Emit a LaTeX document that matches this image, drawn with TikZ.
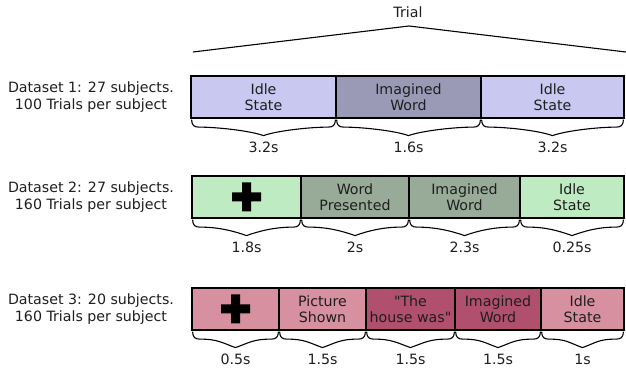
\documentclass[tikz,border=0pt]{standalone}
\usepackage{fontspec}
\setmainfont{DejaVu Sans}[Ligatures=TeXOff]
\usetikzlibrary{calc}
\definecolor{txt}{HTML}{1E1E1E}
\definecolor{aLight}{HTML}{C8C8F0}
\definecolor{aDark}{HTML}{9A9AB6}
\definecolor{bLight}{HTML}{BEEBC2}
\definecolor{bDark}{HTML}{98AA98}
\definecolor{cLight}{HTML}{D690A0}
\definecolor{cDark}{HTML}{B0506E}
\tikzset{
  every node/.style={font=\fontsize{14.2}{16.5}\selectfont, text=txt},
  seg/.style={draw=black, line width=2.4pt, minimum height=42pt, inner sep=0pt, outer sep=0pt, align=center},
  brc/.style={draw=black, line width=1.1pt},
  lab/.style={inner sep=0pt},
  crossfill/.style={fill=black}
}
\newcommand\durbrace[3]{%
  \coordinate (#2-l) at ($(#1.south west)+(0.6,-1.6)$);
  \coordinate (#2-r) at ($(#1.south east)+(-0.6,-1.6)$);
  \coordinate (#2-m) at ($(#2-l)!0.5!(#2-r)+(0,-16)$);
  \draw[brc] (#2-l) .. controls +(0,-6) and +(-4,0) .. ($(#2-l)+(7,-7.5)$)
     .. controls +(18,0) and +(-14,5) .. (#2-m)
     .. controls +(14,5) and +(-18,0) .. ($(#2-r)+(-7,-7.5)$)
     .. controls +(4,0) and +(0,-6) .. (#2-r);
  \node[lab] (#2) at ($(#2-m)+(0,-12)$) {#3};}
\begin{document}
\begin{tikzpicture}[x=1pt,y=1pt]
\useasboundingbox (0,0) rectangle (626,374);

% Trial
\node[lab] (trial) at (408,362) {Trial};
\coordinate (tl) at (193,322);
\coordinate (tp) at (409,348);
\coordinate (tr) at (630,321.5);
\draw[line width=1.1pt] (tl) -- (tp) -- (tr);

% Dataset labels
\node[align=center, inner sep=0pt] (d1) at (91,277) {Dataset 1: 27 subjects.\\100 Trials per subject};
\node[align=center, inner sep=0pt] (d2) at (91,177) {Dataset 2: 27 subjects.\\160 Trials per subject};
\node[align=center, inner sep=0pt] (d3) at (91,65) {Dataset 3: 20 subjects.\\160 Trials per subject};

% Row 1
\node[seg, fill=aLight, minimum width=145pt] (a1) at (263.5,277) {Idle\\State};
\node[seg, fill=aDark, minimum width=145pt] (a2) at (408.5,277) {Imagined\\Word};
\node[seg, fill=aLight, minimum width=143pt] (a3) at (552.5,277) {Idle\\State};
\durbrace{a1}{ta1}{3.2s}
\durbrace{a2}{ta2}{1.6s}
\durbrace{a3}{ta3}{3.2s}

% Row 2
\node[seg, fill=bLight, minimum width=109pt] (b1) at (246.5,177) {};
\node[seg, fill=bDark, minimum width=108pt] (b2) at (355,177) {Word\\Presented};
\node[seg, fill=bDark, minimum width=111pt] (b3) at (464.5,177) {Imagined\\Word};
\node[seg, fill=bLight, minimum width=104pt] (b4) at (572,177) {Idle\\State};
\fill[crossfill, shift={(b1.center)}] (-14.5,-4.5) rectangle (14.5,4.5) (-4.5,-14.5) rectangle (4.5,14.5);
\durbrace{b1}{tb1}{1.8s}
\durbrace{b2}{tb2}{2s}
\durbrace{b3}{tb3}{2.3s}
\durbrace{b4}{tb4}{0.25s}

% Row 3
\node[seg, fill=cLight, minimum width=87pt] (c1) at (235.5,65) {};
\node[seg, fill=cLight, minimum width=87pt] (c2) at (322.5,65) {Picture\\Shown};
\node[seg, fill=cDark, minimum width=89pt] (c3) at (410.5,65) {"The\\house was"};
\node[seg, fill=cDark, minimum width=86pt] (c4) at (498,65) {Imagined\\Word};
\node[seg, fill=cLight, minimum width=83pt] (c5) at (582.5,65) {Idle\\State};
\fill[crossfill, shift={(c1.center)}] (-14.5,-4.5) rectangle (14.5,4.5) (-4.5,-14.5) rectangle (4.5,14.5);
\durbrace{c1}{tc1}{0.5s}
\durbrace{c2}{tc2}{1.5s}
\durbrace{c3}{tc3}{1.5s}
\durbrace{c4}{tc4}{1.5s}
\durbrace{c5}{tc5}{1s}
\end{tikzpicture}
\end{document}
